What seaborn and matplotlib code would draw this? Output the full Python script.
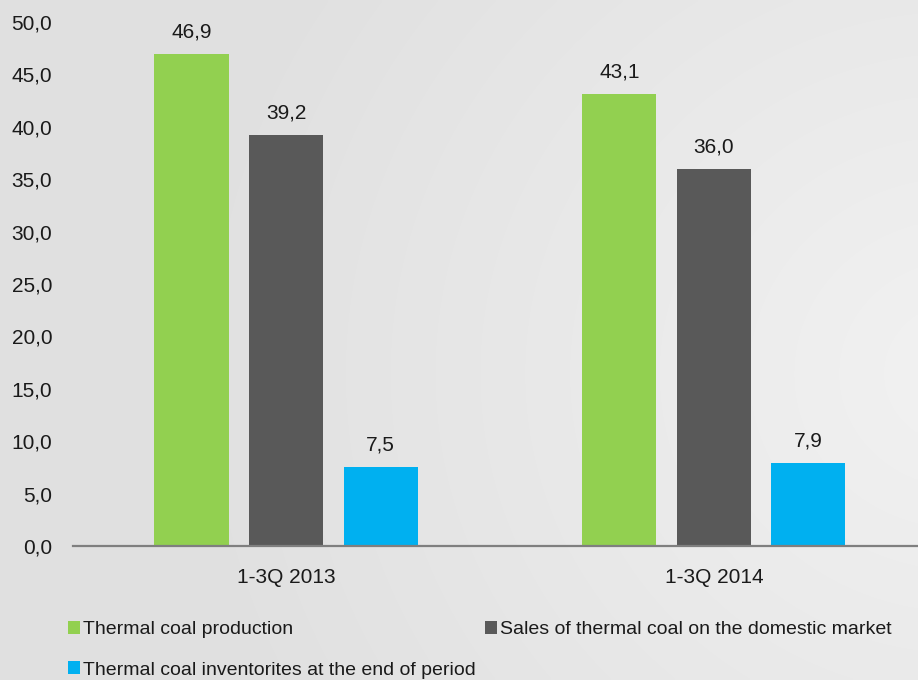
import numpy as np
import pandas as pd
import matplotlib
matplotlib.use("Agg")
import matplotlib.pyplot as plt
from matplotlib.patches import Patch
from matplotlib.ticker import FuncFormatter, MultipleLocator
import seaborn as sns

periods = ["1-3Q 2013", "1-3Q 2014"]
series = [
    "Thermal coal production",
    "Sales of thermal coal on the domestic market",
    "Thermal coal inventorites at the end of period",
]
production = [46.9, 43.1]
domestic_sales = [39.2, 36.0]
inventories = [7.5, 7.9]
colors = ["#92d050", "#595959", "#00b0f0"]

df = pd.DataFrame({
    "period": periods * 3,
    "series": [series[0]] * 2 + [series[1]] * 2 + [series[2]] * 2,
    "value": production + domestic_sales + inventories,
})

sns.set_theme(style="white")
plt.rcParams["font.family"] = ["Liberation Sans", "DejaVu Sans"]

W, H = 918, 680
fig = plt.figure(figsize=(W / 100, H / 100), dpi=100)

# soft grey background, lighter towards the right
bg = fig.add_axes([0, 0, 1, 1], zorder=-10)
yy, xx = np.mgrid[0:1:200j, 0:1:300j]
r = np.sqrt(((xx - 1.05) * 1.0) ** 2 + ((yy - 0.55) * 0.8) ** 2)
val = np.clip(0.948 - 0.08 * r, 0.882, 0.948)
bg.imshow(np.dstack([val, val, val]), extent=[0, 1, 0, 1], aspect="auto",
          interpolation="bilinear")
bg.set_axis_off()

left, bottom, top = 73 / W, (H - 546) / H, (H - 22) / H
ax = fig.add_axes([left, bottom, 1 - left, top - bottom])
ax.patch.set_alpha(0)

sns.barplot(data=df, x="period", y="value", hue="series", hue_order=series,
            palette=colors, width=0.663, gap=0.217, saturation=1,
            linewidth=0, ax=ax, legend=False)

for cont in ax.containers:
    ax.bar_label(cont, labels=[f"{b.get_height():.1f}".replace(".", ",") for b in cont],
                 padding=9, fontsize=15, color="#1a1a1a")

ax.set_xlim(-0.498, 1.477)
ax.set_ylim(0, 50)
ax.yaxis.set_major_locator(MultipleLocator(5))
ax.yaxis.set_major_formatter(FuncFormatter(lambda v, p: f"{v:.1f}".replace(".", ",")))
ax.set_xlabel("")
ax.set_ylabel("")
ax.tick_params(axis="both", length=0, labelsize=15, colors="#1a1a1a")
ax.tick_params(axis="y", pad=15)
ax.tick_params(axis="x", pad=16)
for s in ["left", "right", "top"]:
    ax.spines[s].set_visible(False)
ax.spines["bottom"].set_color("#7f7f7f")
ax.spines["bottom"].set_linewidth(1.6)
ax.grid(False)

# legend fills columns first: production / inventories, then sales
order = [0, 2, 1]
handles = [Patch(facecolor=colors[i], edgecolor="none") for i in order]
labels = [series[i] for i in order]
fig.legend(handles, labels, loc="upper left", bbox_to_anchor=(68 / W, (H - 621) / H),
           ncol=2, frameon=False, fontsize=14, handlelength=0.62, handleheight=0.62,
           handletextpad=0.16, columnspacing=0.45, labelspacing=1.2,
           borderpad=0, borderaxespad=0, labelcolor="#1a1a1a")

fig.savefig("out.png", dpi=100)
